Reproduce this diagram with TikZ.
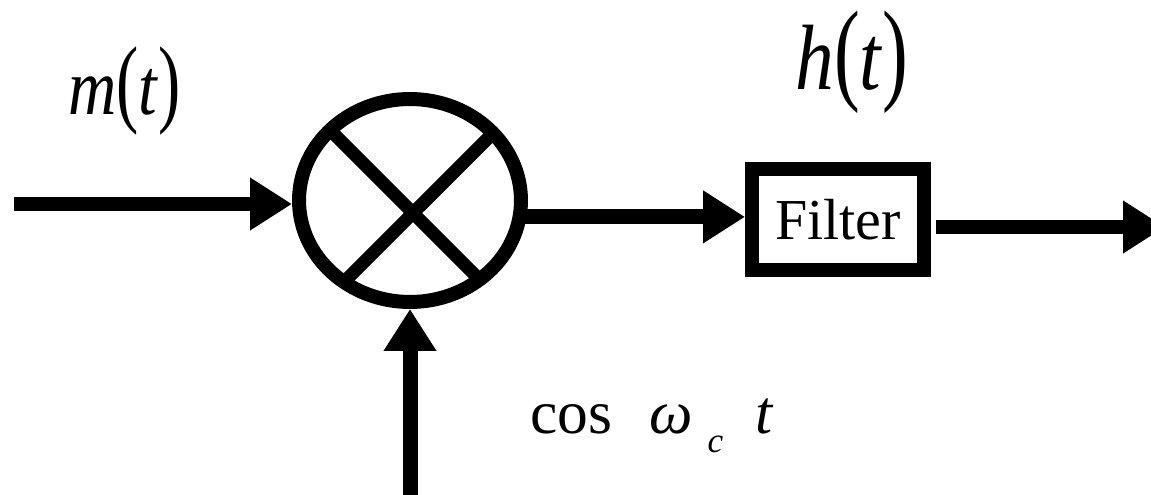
\documentclass[tikz,border=0pt]{standalone}
\usepackage{fontspec}
\setmainfont{Liberation Serif}
\usepackage{graphicx}
\usetikzlibrary{arrows.meta,shapes.geometric,calc}
\newcommand{\sigof}[2]{\scalebox{1}[1.2]{\textit{#1}\scalebox{1}[1.22]{(}\textit{#2}\scalebox{1}[1.22]{)}}}

\begin{document}
\begin{tikzpicture}[x=0.02cm, y=0.02cm,
  sig/.style={line width=0.3cm, -{Triangle[length=0.84cm, width=1cm]}},
  arm/.style={line width=0.26cm}]
\useasboundingbox (0,0) rectangle (1151,494);

% multiplier and filter
\node[ellipse, draw, line width=0.28cm, minimum width=4.44cm, minimum height=4.06cm, inner sep=0pt] (mixer) at (410,293.5) {};
\draw[arm] (330.1,363.9) -- (479.6,214.4);
\draw[arm] (343.9,211.9) -- (493.0,360.9);
\node[draw, line width=0.28cm, minimum width=3.44cm, minimum height=2.02cm, inner sep=0pt, font=\fontsize{33}{40}\selectfont] (filter) at (838,274.5) {Filter};

\coordinate (in) at (14,290);
\coordinate (lo) at (410,-5);
\coordinate (out) at (1165,267);

% signal paths
\draw[sig] (in) -- (in -| mixer.west);
\draw[sig, shorten <=-0.06cm] (mixer.-8) -- (mixer.-8 -| filter.west);
\draw[sig] ([xshift=0.1cm]filter.east |- out) -- (out);
\draw[sig] (lo) -- (mixer.south);

% labels
\node[anchor=base west, inner sep=0pt, font=\fontsize{38}{46}\selectfont] (mlabel) at (68,379) {\sigof{m}{t}};
\node[anchor=base west, inner sep=0pt, font=\fontsize{44}{52}\selectfont] (hlabel) at (795,404) {\sigof{h}{t}};
\node[anchor=base west, inner sep=0pt, font=\fontsize{35}{42}\selectfont] (carrier) at (530,61)
  {cos\hspace{0.74cm}\textit{ω}\hspace{0.3cm}\raisebox{-0.38cm}{\fontsize{20}{24}\selectfont\textit{c}}\hspace{0.64cm}\textit{t}};
\end{tikzpicture}
\end{document}
